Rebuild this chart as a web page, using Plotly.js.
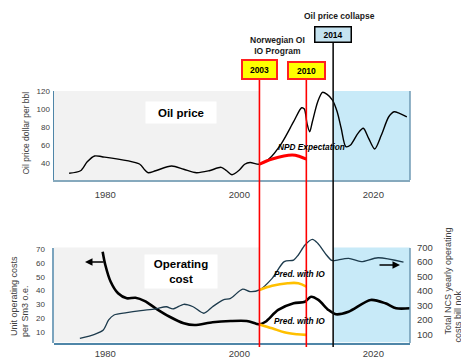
<!DOCTYPE html>
<html>
<head>
<meta charset="utf-8">
<script src="https://cdn.plot.ly/plotly-3.0.1.min.js"></script>
<style>html,body{margin:0;padding:0;background:#fff;}#chart{width:461px;height:360px;}</style>
</head>
<body>
<div id="chart"></div>
<script>
// ---- data ----
const oilYears = [1974.6, 1976.3, 1977.3, 1978.4, 1979.5, 1985.1, 1985.9, 1986.4, 1987.5, 1989.9, 1991.7, 1993.6, 1995.5, 1997.3, 1998.1, 1998.9, 2000.0, 2000.8, 2001.6, 2003.0, 2004.4, 2006.3, 2008.1, 2009.3, 2009.7, 2010.1, 2010.5, 2010.9, 2011.7, 2012.4, 2013.1, 2013.9, 2014.6, 2015.2, 2015.9, 2016.6, 2017.7, 2018.5, 2019.3, 2020.2, 2021.2, 2022.3, 2023.1, 2023.9, 2025.0];
const oilPrice = [28.6, 31.4, 41.4, 47.8, 47.0, 38.9, 32.2, 29.2, 31.4, 36.7, 33.0, 29.2, 31.4, 35.2, 31.4, 27.0, 32.2, 38.6, 40.6, 38.6, 44.4, 61.9, 85.9, 101.4, 100.0, 84.1, 74.8, 85.9, 108.1, 118.6, 116.3, 110.0, 97.0, 78.6, 58.1, 60.0, 73.0, 78.6, 67.4, 55.6, 71.1, 91.4, 97.0, 95.2, 91.4];

const npdYears = [2003, 2004.9, 2007.9, 2009.1, 2010];
const npdPrice = [38.6, 44.4, 48.9, 47.0, 44.4];

const unitYears = [1979.6, 1980.0, 1980.8, 1981.9, 1983.2, 1984.5, 1985.9, 1987.5, 1989.6, 1991.7, 1993.3, 1996.0, 1998.7, 2001.1, 2002.5, 2003.0, 2003.9, 2005.8, 2008.1, 2009.8, 2010.7, 2011.8, 2013.3, 2014.4, 2016.3, 2019.6, 2021.8, 2023.4, 2025.5];
const unitCost = [68.1, 58.5, 46.4, 38.1, 34.5, 34.9, 32.5, 27.3, 21.2, 16.5, 15.2, 17.2, 18.1, 18.1, 16.2, 15.7, 17.6, 26.1, 30.9, 32.0, 35.6, 33.3, 26.1, 23.0, 24.8, 33.3, 30.9, 27.3, 27.3];

const totalYears = [1976.2, 1978.4, 1979.7, 1980.5, 1981.3, 1983.2, 1985.3, 1987.5, 1989.1, 1990.1, 1991.7, 1993.1, 1994.7, 1996.0, 1997.6, 1998.7, 2000.5, 2001.6, 2003.0, 2004.9, 2006.7, 2008.1, 2008.8, 2009.8, 2010.9, 2011.7, 2013.0, 2013.7, 2014.1, 2016.3, 2018.2, 2020.7, 2024.5];
const totalCost = [72, 100, 130, 199, 233, 249, 263, 275, 290, 275, 307, 290, 245, 290, 337, 348, 412, 394, 406, 486, 601, 612, 647, 716, 755, 728, 647, 612, 608, 624, 601, 628, 597];

const predTotalYears = [2003, 2004.9, 2007.2, 2008.8, 2010];
const predTotal = [406, 435, 452, 452, 428];
const predUnitYears = [2003, 2004.9, 2006.7, 2008.6, 2010];
const predUnit = [15.7, 12.9, 10.0, 8.6, 8.1];

const eventYears = [2003, 2010, 2014];
const eventLabels = ['2003', '2010', '2014'];

const yearTicks = [1980, 2000, 2020];
const oilTicks = [40, 60, 80, 100, 120];
const unitTicks = [10, 20, 30, 40, 50, 60, 70];
const totalTicks = [100, 200, 300, 400, 500, 600, 700];

// ---- layout constants ----
const W = 461, H = 360;
const px = v => v / W;          // pixel x -> paper
const py = v => 1 - v / H;      // pixel y -> paper
const XR = [1972.34, 2025.47];
const XDOM = [px(54), px(410)];
const Y1R = [21.1, 120.05];
const Y2R = [2.64, 80.1];
const Y3R = [43.4, 784.8];
const Y2TOP = 71.1;     // top of shaded panel (left axis units)
const FONT = 'Liberation Sans, Arial, sans-serif';
const AXC = '#4f86a8';

const traces = [
  {x: oilYears, y: oilPrice, xaxis: 'x', yaxis: 'y', mode: 'lines',
   line: {color: '#000', width: 1.4, shape: 'spline', smoothing: 0.8}},
  {x: npdYears, y: npdPrice, xaxis: 'x', yaxis: 'y', mode: 'lines',
   line: {color: '#ff0000', width: 3, shape: 'spline'}},
  {x: totalYears, y: totalCost, xaxis: 'x2', yaxis: 'y3', mode: 'lines',
   line: {color: '#1d3b4d', width: 1.3, shape: 'spline', smoothing: 0.8}},
  {x: unitYears, y: unitCost, xaxis: 'x2', yaxis: 'y2', mode: 'lines',
   line: {color: '#000', width: 2.6, shape: 'spline', smoothing: 0.8}},
  {x: predTotalYears, y: predTotal, xaxis: 'x2', yaxis: 'y3', mode: 'lines',
   line: {color: '#ffc000', width: 2.6, shape: 'spline'}},
  {x: predUnitYears, y: predUnit, xaxis: 'x2', yaxis: 'y2', mode: 'lines',
   line: {color: '#ffc000', width: 2.6, shape: 'spline'}}
];

const tickFontX = {family: FONT, size: 9.5, color: '#404040'};

const shapes = [
  {type: 'rect', layer: 'below', xref: 'x', yref: 'y', x0: XR[0], x1: eventYears[0], y0: Y1R[0], y1: Y1R[1], fillcolor: '#f2f2f2', line: {width: 0}},
  {type: 'rect', layer: 'below', xref: 'x', yref: 'y', x0: eventYears[2], x1: XR[1], y0: Y1R[0], y1: Y1R[1], fillcolor: '#c8eaf8', line: {width: 0}},
  {type: 'rect', layer: 'below', xref: 'x2', yref: 'y2', x0: XR[0], x1: eventYears[0], y0: Y2R[0], y1: Y2TOP, fillcolor: '#f2f2f2', line: {width: 0}},
  {type: 'rect', layer: 'below', xref: 'x2', yref: 'y2', x0: eventYears[2], x1: XR[1], y0: Y2R[0], y1: Y2TOP, fillcolor: '#c8eaf8', line: {width: 0}},
  {type: 'line', xref: 'paper', yref: 'paper', x0: px(410), x1: px(410), y0: py(180), y1: py(91), line: {color: '#6f9ab5', width: 1.5}},
  {type: 'line', xref: 'paper', yref: 'paper', x0: px(53), x1: px(53), y0: py(343), y1: py(248), line: {color: AXC, width: 1.5}},
  {type: 'line', xref: 'paper', yref: 'paper', x0: px(410), x1: px(410), y0: py(343), y1: py(248), line: {color: '#6f9ab5', width: 1.5}},
  {type: 'line', xref: 'x', yref: 'paper', x0: eventYears[0], x1: eventYears[0], y0: py(347), y1: py(79), line: {color: '#ff0000', width: 1.6}},
  {type: 'line', xref: 'x', yref: 'paper', x0: eventYears[1], x1: eventYears[1], y0: py(347), y1: py(79), line: {color: '#ff0000', width: 1.6}},
  {type: 'line', xref: 'x', yref: 'paper', x0: eventYears[2], x1: eventYears[2], y0: py(347), y1: py(43), line: {color: '#111', width: 1.6}}
];

const ann = [];
function txt(o) {
  ann.push(Object.assign({xref: 'paper', yref: 'paper', xanchor: 'center', yanchor: 'middle', showarrow: false}, o));
}
// event boxes
txt({xref: 'x', x: eventYears[0], y: py(69.5), text: '<b>' + eventLabels[0] + '</b>',
  width: 33, height: 17, bgcolor: '#ffff00', bordercolor: '#ff2020', borderwidth: 2, borderpad: 0,
  font: {family: FONT, size: 8.5, color: '#000'}});
txt({xref: 'x', x: eventYears[1], y: py(70.5), text: '<b>' + eventLabels[1] + '</b>',
  width: 35, height: 15, bgcolor: '#ffff00', bordercolor: '#ff2020', borderwidth: 2, borderpad: 0,
  font: {family: FONT, size: 8.5, color: '#000'}});
txt({xref: 'x', x: eventYears[2], y: py(35), text: '<b>' + eventLabels[2] + '</b>',
  width: 35, height: 14, bgcolor: '#c5e3f0', bordercolor: '#000', borderwidth: 1.5, borderpad: 0,
  font: {family: FONT, size: 8.5, color: '#000'}});
// headings
txt({x: px(339), y: py(16), text: '<b>Oil price collapse</b>', font: {family: FONT, size: 8.5, color: '#1a1a1a'}});
txt({x: px(277), y: py(45.5), text: '<b>Norwegian OI<br>IO Program</b>', font: {family: FONT, size: 8.5, color: '#1a1a1a'}});
// panel labels
txt({x: px(181), y: py(112.5), text: '<b>Oil price</b>', width: 70, height: 21, bgcolor: '#ffffff', borderpad: 0,
  font: {family: FONT, size: 11.5, color: '#000'}});
txt({x: px(181), y: py(271), text: '<b>Operating<br>cost</b>', width: 72, height: 33, bgcolor: '#ffffff', borderpad: 0,
  font: {family: FONT, size: 11.5, color: '#000'}});
txt({x: px(311.5), y: py(147), text: '<b><i>NPD Expectation</i></b>', font: {family: FONT, size: 8.3, color: '#000'}});
txt({x: px(299), y: py(274), text: '<b><i>Pred. with IO</i></b>', font: {family: FONT, size: 8.3, color: '#000'}});
txt({x: px(299), y: py(321), text: '<b><i>Pred. with IO</i></b>', font: {family: FONT, size: 8.3, color: '#000'}});
// axis titles (rotated, one annotation per line)
txt({x: px(25), y: py(133.5), text: 'Oil price dollar per bbl', textangle: -90, font: {family: FONT, size: 8.5, color: '#404040'}});
txt({x: px(14), y: py(296), text: 'Unit operating costs', textangle: -90, font: {family: FONT, size: 9, color: '#404040'}});
txt({x: px(25), y: py(311), text: 'per Sm3 o.e.', textangle: -90, font: {family: FONT, size: 9, color: '#404040'}});
txt({x: px(447), y: py(281.5), text: 'Total NCS yearly operating', textangle: -90, font: {family: FONT, size: 9, color: '#404040'}});
txt({x: px(457), y: py(316.5), text: 'costs bill nok', textangle: -90, font: {family: FONT, size: 9, color: '#404040'}});
// arrows to axes
ann.push({xref: 'paper', yref: 'paper', x: px(85), y: py(262), ax: 20, ay: 0, text: '', showarrow: true,
  arrowhead: 2, arrowsize: 1, arrowwidth: 1.5, arrowcolor: '#000'});
ann.push({xref: 'paper', yref: 'paper', x: px(400), y: py(265), ax: -22, ay: 0, text: '', showarrow: true,
  arrowhead: 2, arrowsize: 1, arrowwidth: 1.5, arrowcolor: '#000'});

const layout = {
  width: W, height: H,
  margin: {l: 0, r: 0, t: 0, b: 0},
  paper_bgcolor: '#fff', plot_bgcolor: 'rgba(0,0,0,0)',
  showlegend: false, hovermode: false,
  font: {family: FONT},
  xaxis: {domain: XDOM, range: XR, anchor: 'y', tickvals: yearTicks, tickfont: tickFontX,
    showgrid: false, zeroline: false, showline: true, linecolor: '#86a9bd', linewidth: 2, ticks: '', ticklabelstandoff: 5},
  yaxis: {domain: [py(180), py(91)], range: Y1R, anchor: 'x', tickvals: oilTicks,
    tickfont: {family: FONT, size: 8, color: '#404040'}, showgrid: false, zeroline: false,
    showline: true, linecolor: AXC, linewidth: 1.5, ticks: '', ticklabelstandoff: 1},
  xaxis2: {domain: XDOM, range: XR, anchor: 'y2', tickvals: yearTicks, tickfont: tickFontX,
    showgrid: false, zeroline: false, showline: true, linecolor: AXC, linewidth: 2, ticks: '', ticklabelstandoff: 1},
  yaxis2: {domain: [py(342.5), py(235)], range: Y2R, anchor: 'x2', tickvals: unitTicks,
    tickfont: {family: FONT, size: 8, color: '#404040'}, showgrid: false, zeroline: false,
    showline: false, ticks: '', ticklabelstandoff: 8},
  yaxis3: {domain: [py(342.5), py(235)], range: Y3R, anchor: 'x2', overlaying: 'y2', side: 'right', tickvals: totalTicks,
    tickfont: {family: FONT, size: 9.5, color: '#404040'}, showgrid: false, zeroline: false,
    showline: false, ticks: '', ticklabelstandoff: 6},
  shapes: shapes,
  annotations: ann
};

Plotly.newPlot('chart', traces, layout, {staticPlot: true, displayModeBar: false});
</script>
</body>
</html>
